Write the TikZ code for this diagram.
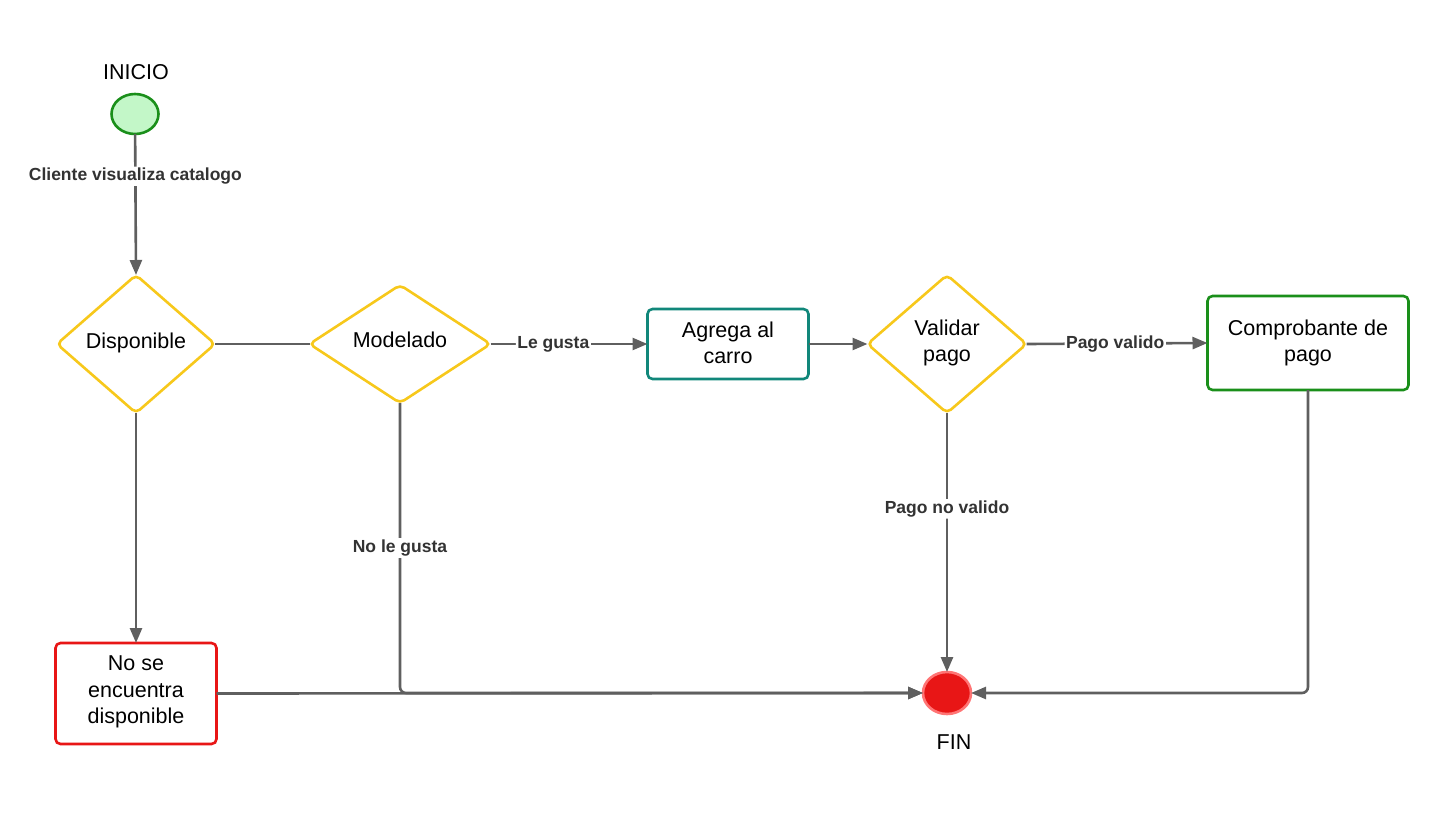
\documentclass[tikz,border=0pt]{standalone}
\usepackage{fontspec}
\setmainfont{Liberation Sans}
\usetikzlibrary{shapes.geometric,arrows.meta}
\definecolor{lineg}{HTML}{5F5F5F}
\definecolor{ylw}{HTML}{F7C81B}
\definecolor{teal2}{HTML}{11877A}
\definecolor{grn}{HTML}{1A8F1A}
\definecolor{grnfill}{HTML}{C3F7C8}
\definecolor{redb}{HTML}{E81616}
\definecolor{redl}{HTML}{FF7575}
\definecolor{lbl}{HTML}{333333}
\tikzset{
  every node/.style={font=\fontsize{21.5}{26.3}\selectfont, align=center, inner sep=0pt, outer sep=0pt},
  dec/.style={diamond, draw=ylw, line width=2.6pt, rounded corners=5pt, fill=white},
  box/.style={rectangle, line width=2.6pt, rounded corners=5pt, fill=white},
  conn/.style={draw=lineg, line width=2.6pt, rounded corners=6pt},
  arr/.style={conn, -{Triangle[length=15pt,width=12pt]}},
  lab/.style={font=\bfseries\fontsize{17.5}{20}\selectfont, text=lbl, fill=white, inner sep=1.5pt},
}
\begin{document}
\begin{tikzpicture}[x=1pt,y=-1pt]
\useasboundingbox (0,0) rectangle (1449,814);
% nodes
\node (tinicio) at (136,72) {INICIO};
\node[ellipse, draw=grn, fill=grnfill, line width=2.6pt, minimum width=47pt, minimum height=40pt] (inicio) at (135,114) {};
\node[dec, minimum width=158pt, minimum height=138pt] (disp) at (136,344) {};
\node at (136,343) {Disponible};
\node[dec, minimum width=181pt, minimum height=118pt] (mod) at (400,344) {};
\node at (400,340) {Modelado};
\node[box, draw=teal2, minimum width=161pt, minimum height=70pt] (agrega) at (728,344) {};
\node at (728,343) {Agrega al\\carro};
\node[dec, minimum width=159pt, minimum height=138pt] (valid) at (947,344) {};
\node at (947,343) {Validar\\pago};
\node[box, draw=grn, minimum width=201pt, minimum height=94pt] (comp) at (1308,343) {};
\node at (1308,343) {Comprobante de\\pago};
\node[box, draw=redb, minimum width=161pt, minimum height=101pt] (nose) at (136,693.5) {};
\node at (136,692) {No se\\encuentra\\disponible};
\node[ellipse, draw=redl, fill=redb, line width=2.6pt, minimum width=48pt, minimum height=42pt] (fin) at (947,693) {};
\node (tfin) at (954,742) {FIN};
\coordinate (c1) at (400,693);
\coordinate (c2) at (1308,693);
% connectors
\draw[arr] (inicio) -- (disp.north) node[lab, pos=0.3] {Cliente visualiza catalogo};
\draw[conn] (disp.east) -- (mod.west);
\draw[arr] (mod.east) -- (agrega.west) node[lab, pos=0.4] {Le gusta};
\draw[arr] (agrega.east) -- (valid.west);
\draw[arr] (valid.east) -- (comp.west) node[lab, pos=0.49] {Pago valido};
\draw[arr] (disp.south) -- (nose.north);
\draw[arr] (nose.east) -- (fin.west);
\draw[arr] (mod.south) -- (c1) -- (fin.west);
\node[lab] at (400,548) {No le gusta};
\draw[arr] (valid.south) -- (fin.north) node[lab, pos=0.37] {Pago no valido};
\draw[arr] (comp.south) -- (c2) -- (fin.east);
\end{tikzpicture}
\end{document}
